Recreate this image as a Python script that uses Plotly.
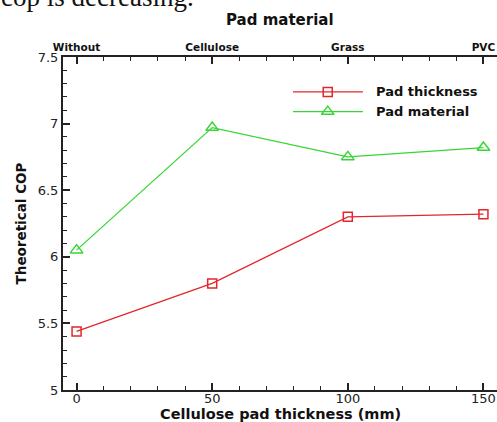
import plotly.graph_objects as go

# ---- data ----
thickness_mm = [0, 50, 100, 150]
cop_thickness = [5.44, 5.80, 6.30, 6.32]

materials = ["Without", "Cellulose", "Grass", "PVC"]
material_idx = [0, 1, 2, 3]
cop_material = [6.05, 6.97, 6.75, 6.82]

y_ticks = [5, 5.5, 6, 6.5, 7, 7.5]
y_ticklabels = ["5", "5.5", "6", "6.5", "7", "7.5"]

RED = "#e3262c"
GREEN = "#37d637"
FONT = "DejaVu Sans"

X_RANGE = [-5, 155]

fig = go.Figure()

fig.add_trace(go.Scatter(
    x=thickness_mm, y=cop_thickness, mode="lines+markers", name="Pad thickness",
    line=dict(color=RED, width=1.3),
    marker=dict(symbol="square-open", size=9, color=RED, line=dict(width=1.5, color=RED)),
    xaxis="x", yaxis="y", showlegend=False, cliponaxis=False,
))
fig.add_trace(go.Scatter(
    x=material_idx, y=cop_material, mode="lines+markers", name="Pad material",
    line=dict(color=GREEN, width=1.3),
    marker=dict(symbol="triangle-up-open", size=11, color=GREEN, line=dict(width=1.5, color=GREEN)),
    xaxis="x2", yaxis="y", showlegend=False, cliponaxis=False,
))

# manual legend keys (overlay axes in paper-like 0..1 units)
leg_y = [0.895, 0.836]
fig.add_trace(go.Scatter(
    x=[0.610], y=[leg_y[0]], mode="markers",
    marker=dict(symbol="square-open", size=9, color=RED, line=dict(width=1.5, color=RED)),
    xaxis="x3", yaxis="y3", showlegend=False, hoverinfo="skip", cliponaxis=False,
))
fig.add_trace(go.Scatter(
    x=[0.610], y=[leg_y[1]], mode="markers",
    marker=dict(symbol="triangle-up-open", size=11, color=GREEN, line=dict(width=1.5, color=GREEN)),
    xaxis="x3", yaxis="y3", showlegend=False, hoverinfo="skip", cliponaxis=False,
))

shapes = [
    dict(type="line", xref="paper", yref="paper", x0=0.530, x1=0.691, y0=leg_y[0], y1=leg_y[0],
         line=dict(color=RED, width=1.3)),
    dict(type="line", xref="paper", yref="paper", x0=0.530, x1=0.691, y0=leg_y[1], y1=leg_y[1],
         line=dict(color=GREEN, width=1.3)),
]

annotations = [
    dict(text="<b>Pad thickness</b>", xref="paper", yref="paper", x=0.717, y=leg_y[0],
         xanchor="left", yanchor="middle", showarrow=False, font=dict(family=FONT, size=13, color="#111")),
    dict(text="<b>Pad material</b>", xref="paper", yref="paper", x=0.717, y=leg_y[1],
         xanchor="left", yanchor="middle", showarrow=False, font=dict(family=FONT, size=13, color="#111")),
    dict(text="<b>Pad material</b>", xref="paper", yref="paper", x=0.5, y=1.112,
         xanchor="center", yanchor="middle", showarrow=False, font=dict(family=FONT, size=15, color="#111")),
    dict(text="<b>Cellulose pad thickness (mm)</b>", xref="paper", yref="paper", x=0.5, y=-0.071,
         xanchor="center", yanchor="middle", showarrow=False, borderpad=0,
         font=dict(family=FONT, size=14.5, color="#111")),
    dict(text="cop is decreasing.", xref="paper", yref="paper", x=-0.1475, y=1.18,
         xanchor="left", yanchor="middle", showarrow=False,
         font=dict(family="Liberation Serif", size=27, color="#111")),
]

axis_common = dict(showline=True, linecolor="#222", linewidth=2, showgrid=False, zeroline=False,
                   ticks="inside", tickcolor="#222", tickwidth=1.5, ticklen=7)

fig.update_layout(
    width=497, height=422,
    margin=dict(l=63, r=0, t=57, b=32),
    plot_bgcolor="white", paper_bgcolor="white",
    font=dict(family=FONT, color="#222"),
    xaxis=dict(range=X_RANGE, tickvals=thickness_mm, ticktext=[str(v) for v in thickness_mm],
               tickfont=dict(size=13, color="#222"), ticklabelstandoff=-5,
               minor=dict(dtick=10, tick0=0, ticks="inside", ticklen=4, tickcolor="#222", tickwidth=1),
               **axis_common),
    xaxis2=dict(range=[X_RANGE[0] / 50, X_RANGE[1] / 50], overlaying="x", side="top", anchor="y",
                tickvals=material_idx, ticktext=[f"<b>{m}</b>" for m in materials],
                tickfont=dict(size=10.5, color="#111"),
                minor=dict(dtick=0.2, tick0=0, ticks="inside", ticklen=4, tickcolor="#222", tickwidth=1),
                **axis_common),
    yaxis=dict(range=[5, 7.5], tickvals=y_ticks, ticktext=y_ticklabels,
               tickfont=dict(size=13, color="#222"),
               minor=dict(dtick=0.1, tick0=5, ticks="inside", ticklen=4, tickcolor="#222", tickwidth=1),
               title=dict(text="<b>Theoretical COP</b>", font=dict(size=13.5, color="#111"), standoff=8),
               **axis_common),
    xaxis3=dict(range=[0, 1], overlaying="x", visible=False, anchor="y3"),
    yaxis3=dict(range=[0, 1], overlaying="y", visible=False, anchor="x3"),
    shapes=shapes,
    annotations=annotations,
)

fig.write_html("out.html")
